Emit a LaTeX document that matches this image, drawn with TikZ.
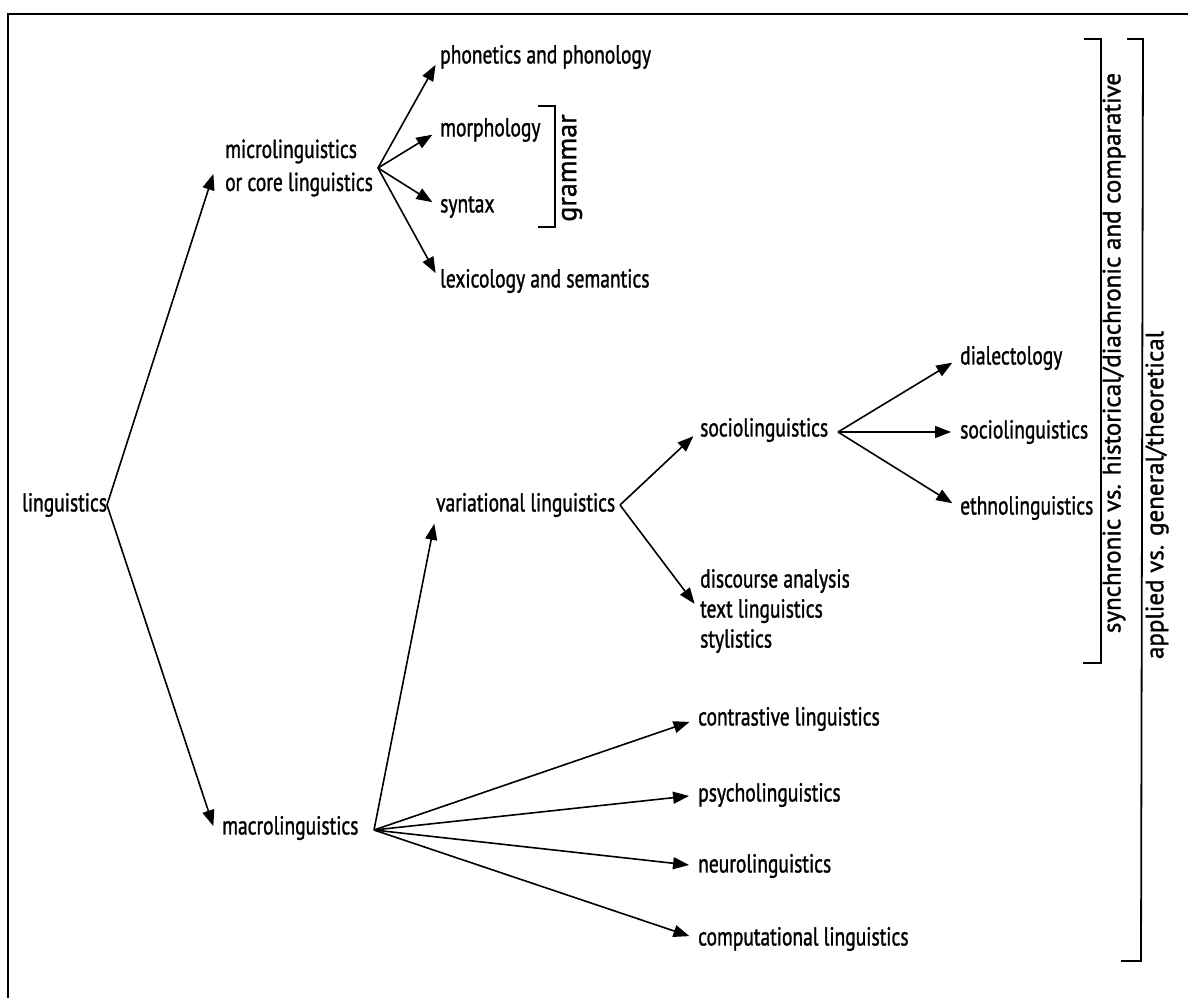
\documentclass[tikz,border=0pt]{standalone}
\usepackage{fontspec}
\setmainfont{PT Sans}[FakeStretch=0.75,FakeBold=1.2]
\newfontfamily\sidefont{PT Sans}[FakeBold=1.2]
\usetikzlibrary{arrows.meta}
\tikzset{
  lbl/.style={anchor=west, inner sep=0pt, font=\fontsize{26}{33}\selectfont, align=left},
  lbl3/.style={lbl, font=\fontsize{26}{30}\selectfont},
  side/.style={rotate=90, inner sep=0pt, font=\sidefont\fontsize{25}{30}\selectfont},
  arr/.style={-{Triangle[length=16pt,width=12pt]}, line width=1.6pt, shorten >=9pt},
  brk/.style={line width=1.8pt},
  frame/.style={line width=2.2pt},
}
\begin{document}
\begin{tikzpicture}[x=1pt,y=-1pt]
\useasboundingbox (0,0) rectangle (1188,998);
% frame
\draw[frame] (1188,14) -- (8,14) -- (8,998);
% nodes
\node[lbl] (ling)  at (22,505)  {linguistics};
\node[lbl] (micro) at (225,168) {microlinguistics\\or core linguistics};
\node[lbl] (macro) at (222,828) {macrolinguistics};
\node[lbl] (phon)  at (440,57)  {phonetics and phonology};
\node[lbl] (morph) at (440,130) {morphology};
\node[lbl] (syn)   at (440,207) {syntax};
\node[lbl] (lex)   at (440,281) {lexicology and semantics};
\node[lbl] (var)   at (436,505) {variational linguistics};
\node[lbl] (soc)   at (700,430) {sociolinguistics};
\node[lbl3] (disc) at (700,611) {discourse analysis\\text linguistics\\stylistics};
\node[lbl] (contr) at (698,719) {contrastive linguistics};
\node[lbl] (psy)   at (698,795) {psycholinguistics};
\node[lbl] (neu)   at (698,866) {neurolinguistics};
\node[lbl] (comp)  at (698,939) {computational linguistics};
\node[lbl] (dial)  at (960,358) {dialectology};
\node[lbl] (soc2)  at (960,432) {sociolinguistics};
\node[lbl] (eth)   at (960,508) {ethnolinguistics};
\node[side, font=\sidefont\fontsize{28}{30}\selectfont] (gram) at (572,168) {grammar};
\node[side] (sync) at (1114,353) {synchronic vs. historical/diachronic and comparative};
\node[side] (appl) at (1157,495) {applied vs. general/theoretical};
% branching points
\coordinate (lv) at (107,505);
\coordinate (mv) at (378,168);
\coordinate (Mv) at (374,830);
\coordinate (vv) at (620,505);
\coordinate (sv) at (838,432);
% connectors
\draw[arr, shorten >=2pt] (lv) -- ([xshift=-11pt,yshift=-4pt]micro.west);
\draw[arr, shorten >=2pt] (lv) -- ([xshift=-8pt]macro.west);
\draw[arr] (mv) -- (phon.west);
\draw[arr] (mv) -- (morph.west);
\draw[arr] (mv) -- (syn.west);
\draw[arr] (mv) -- (lex.west);
\draw[arr] (Mv) -- ([yshift=-10pt]var.west);
\draw[arr] (Mv) -- (contr.west);
\draw[arr] (Mv) -- (psy.west);
\draw[arr] (Mv) -- (neu.west);
\draw[arr] (Mv) -- (comp.west);
\draw[arr] (vv) -- (soc.west);
\draw[arr] (vv) -- (disc.west);
\draw[arr] (sv) -- (dial.west);
\draw[arr] (sv) -- (soc2.west);
\draw[arr] (sv) -- (eth.west);
% brackets
\draw[brk] (538,106) -- (555,106) -- (555,227) -- (538,227);
\draw[brk] (1084,39) -- (1101,39) -- (1101,663) -- (1083,663);
\draw[brk] (1127,39) -- (1143,39) -- (1141,961) -- (1121,961);
\end{tikzpicture}
\end{document}
